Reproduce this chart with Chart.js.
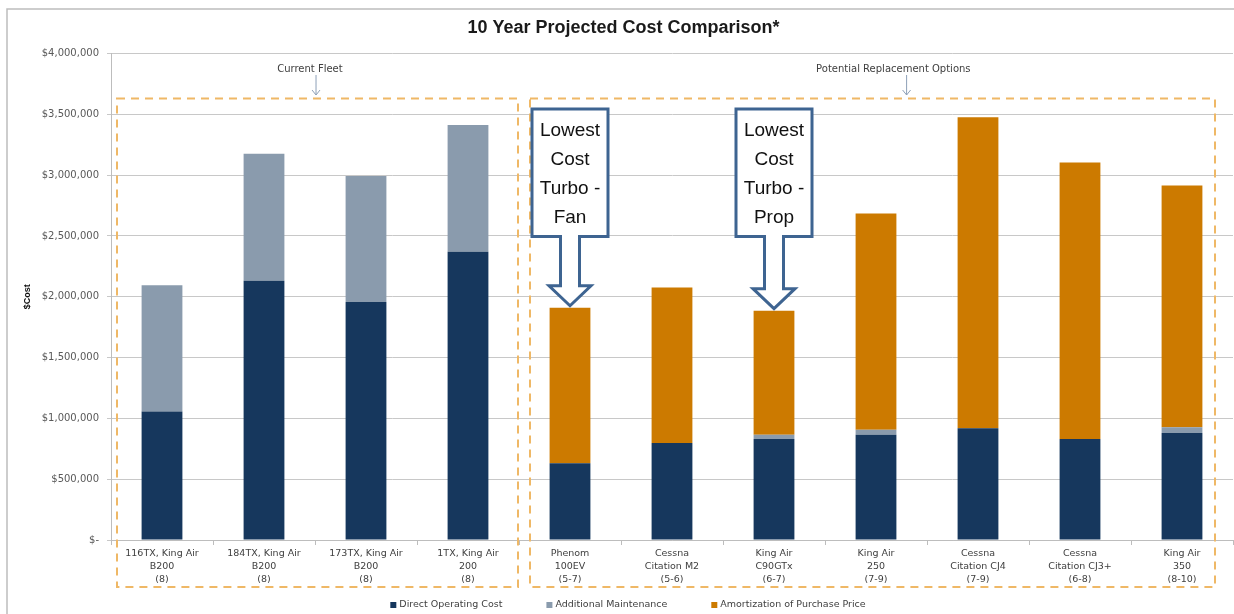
<!DOCTYPE html>
<html>
<head>
<meta charset="utf-8">
<script src="https://cdn.jsdelivr.net/npm/chart.js@4.4.0/dist/chart.umd.min.js"></script>
<style>
html, body { margin: 0; padding: 0; background: #fff; }
#caja { width: 1234px; height: 614px; position: relative; }
</style>
</head>
<body>
<div id="caja"><canvas id="grafico"></canvas></div>
<script>
const aviones = [
    ['116TX, King Air', 'B200', '(8)'],
    ['184TX, King Air', 'B200', '(8)'],
    ['173TX, King Air', 'B200', '(8)'],
    ['1TX, King Air', '200', '(8)'],
    ['Phenom', '100EV', '(5-7)'],
    ['Cessna', 'Citation M2', '(5-6)'],
    ['King Air', 'C90GTx', '(6-7)'],
    ['King Air', '250', '(7-9)'],
    ['Cessna', 'Citation CJ4', '(7-9)'],
    ['Cessna', 'Citation CJ3+', '(6-8)'],
    ['King Air', '350', '(8-10)']
]
const costoDirecto = [1057000, 2133000, 1958000, 2370000, 632000, 797000, 830000, 865000, 920000, 830000, 879000]
const mantenimiento = [1038000, 1044000, 1035000, 1043000, 0, 0, 35000, 41000, 0, 0, 49000]
const amortizacion = [0, 0, 0, 0, 1278000, 1279000, 1021000, 1779000, 2556000, 2275000, 1988000]
const etiquetasY = ['$-', '$500,000', '$1,000,000', '$1,500,000', '$2,000,000', '$2,500,000', '$3,000,000', '$3,500,000', '$4,000,000']
const nombresSeries = ['Direct Operating Cost', 'Additional Maintenance', 'Amortization of Purchase Price']
const colores = ['#16375d', '#8a9bad', '#cc7a00']

// indices of the bars pointed at by the callouts
const destacados = [
    { idx: 4, texto: ['Lowest', 'Cost', 'Turbo -', 'Fan'] },
    { idx: 6, texto: ['Lowest', 'Cost', 'Turbo -', 'Prop'] }
]

const extras = {
    id: 'extras',
    beforeDraw(chart) {
        const ctx = chart.ctx
        ctx.save()
        ctx.strokeStyle = '#bdbdbd'
        ctx.lineWidth = 1.5
        ctx.beginPath()
        ctx.moveTo(7, 614)
        ctx.lineTo(7, 9)
        ctx.lineTo(1234, 9)
        ctx.stroke()
        ctx.restore()
    },
    afterDraw(chart) {
        const ctx = chart.ctx
        const xs = chart.scales.x
        const ys = chart.scales.y
        const ancho = xs.getPixelForValue(1) - xs.getPixelForValue(0)
        const borde0 = xs.getPixelForValue(0) - ancho / 2
        ctx.save()

        // dashed group boxes
        ctx.strokeStyle = '#efb866'
        ctx.lineWidth = 2
        ctx.setLineDash([8, 6])
        const arriba = ys.getPixelForValue(3630000)
        const abajo = 587
        ctx.strokeRect(borde0 + 6, arriba, ancho * 4 - 7, abajo - arriba)
        ctx.strokeRect(borde0 + ancho * 4 + 11, arriba, ancho * 7 - 29, abajo - arriba)
        ctx.setLineDash([])

        // group captions with small arrows
        ctx.font = '10px "DejaVu Sans"'
        ctx.fillStyle = '#404040'
        ctx.textAlign = 'center'
        ctx.textBaseline = 'middle'
        const grupos = [
            { texto: 'Current Fleet', x: borde0 + ancho * 1.95, flecha: borde0 + ancho * 2.01 },
            { texto: 'Potential Replacement Options', x: borde0 + ancho * 7.67, flecha: borde0 + ancho * 7.8 }
        ]
        grupos.forEach(g => {
            ctx.fillText(g.texto, g.x, 69)
            ctx.strokeStyle = '#8ea0b8'
            ctx.lineWidth = 1
            ctx.beginPath()
            ctx.moveTo(g.flecha, 75)
            ctx.lineTo(g.flecha, 95)
            ctx.moveTo(g.flecha - 4, 90)
            ctx.lineTo(g.flecha, 95)
            ctx.lineTo(g.flecha + 4, 90)
            ctx.stroke()
        })

        // callout arrows
        destacados.forEach(d => {
            const cx = xs.getPixelForValue(d.idx)
            const total = costoDirecto[d.idx] + mantenimiento[d.idx] + amortizacion[d.idx]
            const punta = ys.getPixelForValue(total) - 2
            const base = punta - 20
            const top = ys.getPixelForValue(3545000)
            const bot = ys.getPixelForValue(2495000)
            const mb = 38, ms = 9.5, mc = 21
            ctx.beginPath()
            ctx.moveTo(cx - mb, top)
            ctx.lineTo(cx + mb, top)
            ctx.lineTo(cx + mb, bot)
            ctx.lineTo(cx + ms, bot)
            ctx.lineTo(cx + ms, base)
            ctx.lineTo(cx + mc, base)
            ctx.lineTo(cx, punta)
            ctx.lineTo(cx - mc, base)
            ctx.lineTo(cx - ms, base)
            ctx.lineTo(cx - ms, bot)
            ctx.lineTo(cx - mb, bot)
            ctx.closePath()
            ctx.fillStyle = '#ffffff'
            ctx.fill()
            ctx.strokeStyle = '#3e6491'
            ctx.lineWidth = 3
            ctx.lineJoin = 'miter'
            ctx.stroke()
            ctx.fillStyle = '#111111'
            ctx.font = '19px "Liberation Sans"'
            d.texto.forEach((t, i) => ctx.fillText(t, cx, top + 22 + i * 29))
        })

        // legend
        ctx.font = '9.5px "DejaVu Sans"'
        ctx.textAlign = 'left'
        const anchos = nombresSeries.map(n => 6 + 3 + ctx.measureText(n).width)
        const sep = 44
        const totalL = anchos.reduce((a, b) => a + b, 0) + sep * (anchos.length - 1)
        let x = 628 - totalL / 2
        nombresSeries.forEach((n, i) => {
            ctx.fillStyle = colores[i]
            ctx.fillRect(x, 602, 6, 6)
            ctx.fillStyle = '#404040'
            ctx.fillText(n, x + 9, 605)
            x += anchos[i] + sep
        })
        ctx.restore()
    }
}

const datasets = [costoDirecto, mantenimiento, amortizacion].map((serie, i) => ({
    label: nombresSeries[i],
    data: serie,
    backgroundColor: colores[i],
    borderWidth: 0,
    categoryPercentage: 1,
    barPercentage: 0.4
}))

const grafico = document.querySelector('#grafico')
new Chart(grafico, {
    type: 'bar',
    data: { labels: aviones, datasets },
    options: {
        responsive: true,
        maintainAspectRatio: false,
        animation: false,
        layout: { padding: { left: 14, right: 1, top: 0, bottom: 0 } },
        plugins: {
            legend: { display: false },
            tooltip: { enabled: false },
            title: {
                display: true,
                text: '10 Year Projected Cost Comparison*',
                color: '#1a1a1a',
                font: { family: 'Liberation Sans', size: 18, weight: 'bold' },
                padding: { top: 17, bottom: 15 }
            }
        },
        scales: {
            x: {
                stacked: true,
                grid: { drawOnChartArea: false, tickLength: 5, color: '#bdbdbd' },
                border: { color: '#bdbdbd' },
                ticks: {
                    color: '#404040',
                    font: { family: 'DejaVu Sans', size: 9.5, lineHeight: 1.37 },
                    padding: 2,
                    maxRotation: 0,
                    autoSkip: false
                },
                afterFit(scale) { scale.height = 74 }
            },
            y: {
                stacked: true,
                min: 0,
                max: 4000000,
                grid: { color: '#c8c8c8', tickLength: 4 },
                border: { color: '#bdbdbd' },
                ticks: {
                    stepSize: 500000,
                    color: '#595959',
                    padding: 8,
                    font: { family: 'DejaVu Sans', size: 10 },
                    callback: (v, i) => etiquetasY[i]
                },
                title: {
                    display: true,
                    text: '$Cost',
                    color: '#111111',
                    font: { family: 'Liberation Sans', size: 9, weight: 'bold' },
                    padding: { top: 8, bottom: 0 }
                },
                afterFit(scale) { scale.width = 97 }
            }
        }
    },
    plugins: [extras]
})
</script>
</body>
</html>
